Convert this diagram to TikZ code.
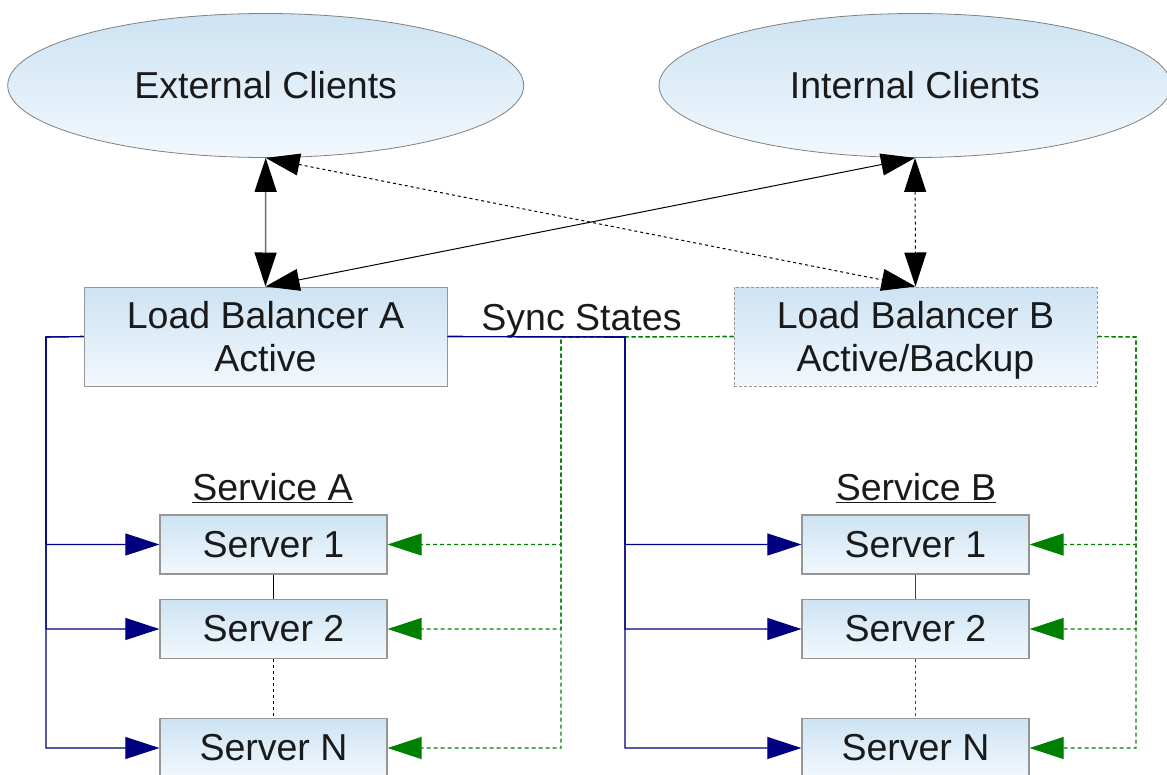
\documentclass[tikz,border=0pt]{standalone}
\usepackage{fontspec}
\setmainfont{Liberation Sans}
\usetikzlibrary{arrows.meta,shapes.geometric}
\definecolor{boxtop}{RGB}{205,227,243}
\definecolor{boxbot}{RGB}{242,248,253}
\definecolor{boxline}{RGB}{150,150,150}
\definecolor{navyc}{RGB}{0,0,128}
\definecolor{greenc}{RGB}{0,128,0}
\definecolor{txt}{RGB}{26,26,26}
\begin{document}
\begin{tikzpicture}[x=1pt,y=-1pt,
  every node/.style={font=\fontsize{37.5}{43}\selectfont, text=txt, align=center},
  cloud/.style={ellipse, draw=gray, line width=0.8pt, top color=boxtop, bottom color=boxbot, minimum width=516pt, minimum height=144pt, inner sep=0pt},
  lbbox/.style={rectangle, draw=boxline, line width=1pt, top color=boxtop, bottom color=boxbot, minimum width=363pt, minimum height=99pt, inner sep=0pt, text depth=0pt},
  srvbox/.style={rectangle, draw=boxline, line width=1.2pt, top color=boxtop, bottom color=boxbot, minimum width=227pt, minimum height=59pt, inner sep=0pt},
  biarrow/.style={{Triangle[length=34pt,width=22pt,color=black]}-{Triangle[length=34pt,width=22pt,color=black]}, line width=1pt},
  navyarrow/.style={-{Triangle[length=34pt,width=22pt]}, draw=navyc, line width=1.1pt},
  greenarrow/.style={-{Triangle[length=34pt,width=22pt]}, draw=greenc, line width=1.1pt, dash pattern=on 4pt off 3pt},
]
\useasboundingbox (0,0) rectangle (1167,774);
\clip (0,0) rectangle (1167,774);

% clients
\node[cloud] (ext) at (265.7,85.5) {\raisebox{-2.5pt}{External Clients}};
\node[cloud, minimum width=512pt] (intc) at (915,85.5) {\raisebox{-2.5pt}{Internal Clients}};

% load balancers
\node[lbbox] (lbA) at (265.5,336.5) {Load Balancer A\\Active};
\node[lbbox, dash pattern=on 3pt off 2pt] (lbB) at (915.5,336.5) {Load Balancer B\\Active/Backup};

% service labels
\node (svcA) at (272.5,488) {\underline{Service A}};
\node (svcB) at (916,488) {\underline{Service B}};

% servers
\node[srvbox] (sA1) at (273.5,544.5) {Server 1};
\node[srvbox] (sA2) at (273.5,629) {Server 2};
\node[srvbox] (sAN) at (273.5,748) {Server N};
\node[srvbox] (sB1) at (915.5,544.5) {Server 1};
\node[srvbox] (sB2) at (915.5,629) {Server 2};
\node[srvbox] (sBN) at (915.5,748) {Server N};

% column coordinates
\coordinate (colA) at (46,337);
\coordinate (colB) at (625,337);
\coordinate (colC) at (561,337);
\coordinate (colD) at (1136,337);

% sync states label
\node[anchor=base] (sync) at (581.5,330) {Sync States};

% client links
\draw[biarrow, draw=gray!85!black, line width=1.4pt] (ext.south) -- (lbA.north);
\draw[biarrow, dashed] (ext.south) -- (lbB.north);
\draw[biarrow] (intc.south) -- (lbA.north);
\draw[biarrow, dashed] (intc.south) -- (lbB.north);

% green sync lines (LB B)
\foreach \s in {sA1,sA2,sAN} \draw[greenarrow] (lbB.west) -- (colC) |- (\s.east);
\foreach \s in {sB1,sB2,sBN} \draw[greenarrow] (lbB.east) -- (colD) |- (\s.east);

% navy lines (LB A)
\foreach \s in {sA1,sA2,sAN} \draw[navyarrow] (lbA.west) -- (colA) |- (\s.west);
\foreach \s in {sB1,sB2,sBN} \draw[navyarrow] (lbA.east) -- (colB) |- (\s.west);

% server chains
\draw[line width=1pt] (sA1.south) -- (sA2.north);
\draw[line width=1pt, dashed] (sA2.south) -- (sAN.north);
\draw[line width=1pt, draw=darkgray] (sB1.south) -- (sB2.north);
\draw[line width=1pt, dashed, draw=darkgray] (sB2.south) -- (sBN.north);
\end{tikzpicture}
\end{document}
